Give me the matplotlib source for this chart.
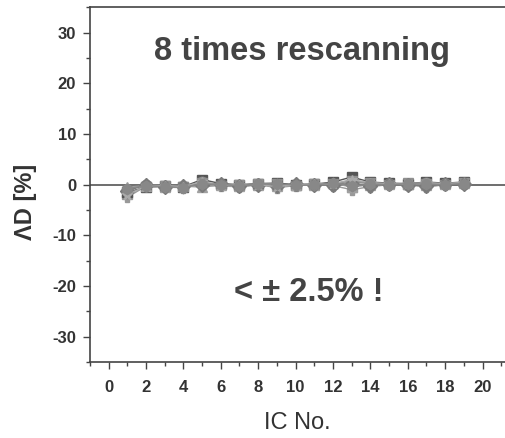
import numpy as np
from matplotlib import pyplot as plt
from matplotlib.ticker import MultipleLocator

plt.rcParams['font.family'] = ['Liberation Sans', 'DejaVu Sans']
plt.rcParams['axes.unicode_minus'] = False

ic = np.arange(1, 20)

# deviation per rescanning run (percent)
run1 = [-2.5, -0.3, -0.5, -0.6, 0.0, -0.3, -0.4, 0.0, -0.6, -0.2, 0.0, -0.2, -1.0, -0.4, 0.0, 0.0, -0.5, 0.0, 0.3]
run2 = [-1.5, -0.5, -0.3, -0.4, 1.0, 0.2, 0.0, 0.2, 0.3, 0.0, 0.1, 0.5, 1.5, 0.5, 0.3, 0.2, 0.5, 0.3, 0.5]
run3 = [-1.0, 0.0, -0.2, -0.5, 0.5, 0.0, -0.2, 0.1, 0.0, -0.1, 0.0, 0.0, 0.5, 0.2, 0.1, 0.0, 0.3, 0.1, 0.2]
run4 = [-0.5, -0.2, -0.4, -0.3, -0.5, -0.1, -0.3, 0.0, -0.3, 0.0, -0.1, 0.3, -0.5, 0.0, 0.2, 0.1, 0.0, 0.2, 0.4]
run5 = [-1.8, -0.4, -0.3, -0.5, 0.3, -0.2, -0.1, 0.1, 0.1, -0.2, 0.2, 0.1, 0.8, 0.3, 0.0, 0.3, 0.2, 0.0, 0.3]
run6 = [-1.2, -0.1, -0.5, -0.2, 0.0, 0.1, -0.3, -0.1, -0.2, 0.1, 0.0, -0.1, 0.2, -0.2, 0.1, 0.0, -0.3, 0.1, 0.1]
run7 = [-2.0, -0.3, -0.2, -0.4, 0.6, -0.2, 0.0, 0.0, -0.4, 0.0, 0.1, 0.2, 1.0, 0.4, 0.2, 0.1, 0.4, 0.2, 0.4]
run8 = [-0.8, -0.2, -0.4, -0.6, 0.2, 0.0, -0.2, 0.2, 0.2, -0.1, -0.1, 0.4, -0.3, 0.1, 0.0, 0.2, 0.1, 0.0, 0.2]

runs = [run1, run2, run3, run4, run5, run6, run7, run8]
markers = ['P', 's', 'o', '^', 'v', 'D', '*', 'h']
colors = ['#999999', '#555555', '#8a8a8a', '#a0a0a0', '#909090', '#7a7a7a', '#aaaaaa', '#888888']

fig = plt.figure(figsize=(5.05, 4.38), dpi=100)
ax = fig.add_axes([0.178, 0.1735, 0.822, 0.81])

ax.axhline(0, color='#555555', lw=1.2, zorder=1)
for r, m, c in zip(runs, markers, colors):
    ax.plot(ic, r, marker=m, color=c, ms=7.5, lw=1.0, mec=c, zorder=3)

ax.set_xlim(-1, 21.2)
ax.set_ylim(-35, 35)
ax.xaxis.set_major_locator(MultipleLocator(2))
ax.xaxis.set_minor_locator(MultipleLocator(1))
ax.yaxis.set_major_locator(MultipleLocator(10))
ax.yaxis.set_minor_locator(MultipleLocator(5))

ax.spines['right'].set_visible(False)
for s in ['left', 'bottom', 'top']:
    ax.spines[s].set_color('#444444')
    ax.spines[s].set_linewidth(1.2)
ax.tick_params(which='both', direction='out', color='#444444', width=1.0)
ax.tick_params(which='major', length=5, labelsize=12, labelcolor='#333333', pad=5)
ax.tick_params(which='minor', length=3)
ax.tick_params(axis='x', which='major', pad=8)
for lab in ax.get_xticklabels() + ax.get_yticklabels():
    lab.set_fontweight('bold')

ax.set_xlabel('IC No.', fontsize=17, color='#333333', labelpad=12)
ax.set_ylabel('ΛD [%]', fontsize=17, fontweight='bold', color='#333333', labelpad=8)
ax.yaxis.set_label_coords(-0.128, 0.45)

ax.text(10.35, 26.2, '8 times rescanning', fontsize=23.5, fontweight='bold', color='#444444', ha='center', va='center')
ax.text(10.7, -21.3, '< ± 2.5% !', fontsize=23.5, fontweight='bold', color='#444444', ha='center', va='center')

plt.savefig('out.png', dpi=100)
